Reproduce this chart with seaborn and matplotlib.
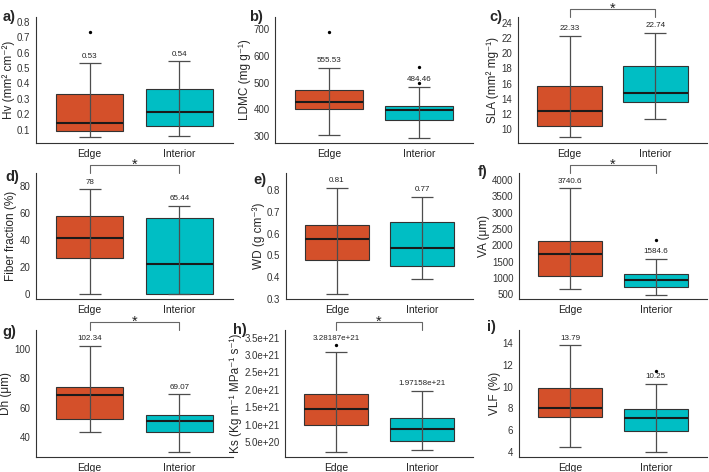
import matplotlib
matplotlib.use("Agg")
import matplotlib.pyplot as plt
import matplotlib.ticker as mticker
import seaborn as sns
import pandas as pd

# Groups and colours
GROUPS = ["Edge", "Interior"]
COLORS = ["#D4502A", "#00BEC4"]

# Box summaries: [whisker low, Q1, median, Q3, whisker high]
HV_EDGE = [0.05, 0.089, 0.145, 0.33, 0.535]
HV_INTERIOR = [0.059, 0.126, 0.214, 0.363, 0.546]
HV_OUT = [[0.73], []]
HV_MAX = [0.53, 0.54]

LDMC_EDGE = [302.5, 403.1, 426.7, 473.9, 555.53]
LDMC_INTERIOR = [293.8, 360.9, 396.9, 413.0, 484.46]
LDMC_OUT = [[688.8], [497.5, 558.0]]
LDMC_MAX = [555.53, 484.46]

SLA_EDGE = [8.91, 10.35, 12.4, 15.69, 22.33]
SLA_INTERIOR = [11.35, 13.63, 14.8, 18.27, 22.74]
SLA_OUT = [[], []]
SLA_MAX = [22.33, 22.74]

FIBER_EDGE = [0.0, 26.5, 41.9, 57.7, 78.0]
FIBER_INTERIOR = [0.0, 0.0, 22.5, 56.7, 65.44]
FIBER_OUT = [[], []]
FIBER_MAX = [78, 65.44]

WD_EDGE = [0.323, 0.481, 0.574, 0.640, 0.81]
WD_INTERIOR = [0.394, 0.45, 0.534, 0.651, 0.77]
WD_OUT = [[], []]
WD_MAX = [0.81, 0.77]

VA_EDGE = [653, 1071, 1745, 2133, 3740.6]
VA_INTERIOR = [490, 735, 949, 1122, 1584.6]
VA_OUT = [[], [2173]]
VA_MAX = [3740.6, 1584.6]

DH_EDGE = [43.0, 52.2, 68.4, 74.4, 102.34]
DH_INTERIOR = [29.4, 43.2, 50.8, 54.9, 69.07]
DH_OUT = [[], []]
DH_MAX = [102.34, 69.07]

KS_EDGE = [0.21e21, 0.98e21, 1.46e21, 1.885e21, 3.096e21]
KS_INTERIOR = [0.26e21, 0.52e21, 0.865e21, 1.18e21, 1.97158e21]
KS_OUT = [[3.28187e21], []]
KS_MAX = [3.28187e21, 1.97158e21]

VLF_EDGE = [4.49, 7.25, 8.02, 9.86, 13.79]
VLF_INTERIOR = [4.0, 5.96, 7.13, 7.93, 10.25]
VLF_OUT = [[], [11.48]]
VLF_MAX = [13.79, 10.25]

W, H = 709, 472


def px_axes(fig, x0, y0, x1, y1):
    return fig.add_axes([x0 / W, 1 - y1 / H, (x1 - x0) / W, (y1 - y0) / H])


def draw_panel(ax, edge, interior, outliers, maxes, ylabel, ylim, ticks,
               sig=False, fmt=None):
    df = pd.DataFrame({"group": ["Edge"] * len(edge) + ["Interior"] * len(interior),
                       "value": edge + interior})
    sns.boxplot(data=df, x="group", y="value", hue="group", order=GROUPS,
                palette=COLORS, saturation=1, width=0.75, whis=(0, 100),
                showcaps=False, showfliers=False,
                whiskerprops={"visible": False},
                linecolor="#333333", linewidth=0.8,
                medianprops={"color": "#1a1a1a", "linewidth": 1.5},
                legend=False, ax=ax)

    # whisker drawn as errorbar through the box (ggplot style)
    meds = [edge[2], interior[2]]
    lows = [edge[2] - edge[0], interior[2] - interior[0]]
    highs = [edge[4] - edge[2], interior[4] - interior[2]]
    ax.errorbar([0, 1], meds, yerr=[lows, highs], fmt="none", ecolor="#4d4d4d",
                elinewidth=0.9, capsize=8, capthick=0.9, zorder=3)

    ox = [g for g, vals in zip(GROUPS, outliers) for _ in vals]
    oy = [v for vals in outliers for v in vals]
    if oy:
        sns.stripplot(x=ox, y=oy, order=GROUPS, jitter=False, color="black",
                      size=2.4, ax=ax, zorder=4)

    for i, v in enumerate(maxes):
        ax.annotate(f"{v:g}", xy=(i, v), xytext=(0, 2.5), textcoords="offset points",
                    ha="center", va="bottom", fontsize=5.8, color="#222222")

    if sig:
        trans = ax.get_xaxis_transform()
        ax.plot([0, 0, 1, 1], [1.0, 1.06, 1.06, 1.0], transform=trans,
                color="#666666", lw=0.8, clip_on=False)
        ax.annotate("*", xy=(0.5, 1.06), xycoords=trans, xytext=(0, -2.5),
                    textcoords="offset points", ha="center", va="baseline",
                    fontsize=10.5, color="#222222", annotation_clip=False)

    ax.set_xlim(-0.6, 1.6)
    ax.set_ylim(*ylim)
    ax.set_yticks(ticks)
    if fmt is not None:
        ax.yaxis.set_major_formatter(fmt)
    ax.set_xlabel("")
    ax.set_ylabel(ylabel, fontsize=8.5, labelpad=1.5)
    sns.despine(ax=ax)
    for s in ["left", "bottom"]:
        ax.spines[s].set_color("#333333")
        ax.spines[s].set_linewidth(0.8)
    ax.tick_params(axis="both", length=2.5, width=0.8, color="#333333",
                   labelcolor="#333333", pad=1.5)
    ax.tick_params(axis="y", labelsize=7)
    ax.tick_params(axis="x", labelsize=7.5, labelcolor="#222222")


sns.set_theme(style="white")
plt.rcParams["font.family"] = ["Liberation Sans", "DejaVu Sans"]

fig = plt.figure(figsize=(W / 100, H / 100), dpi=100)

one_dec = mticker.FormatStrFormatter("%.1f")
sci = mticker.FuncFormatter(lambda v, p: f"{v:.1e}")

ax = px_axes(fig, 36, 17, 233, 143)
draw_panel(ax, HV_EDGE, HV_INTERIOR, HV_OUT, HV_MAX, "Hv (mm² cm⁻²)",
           (0.014, 0.83), [0.1, 0.2, 0.3, 0.4, 0.5, 0.6, 0.7, 0.8], fmt=one_dec)

ax = px_axes(fig, 275, 17, 473, 143)
draw_panel(ax, LDMC_EDGE, LDMC_INTERIOR, LDMC_OUT, LDMC_MAX, "LDMC (mg g⁻¹)",
           (274, 746), [300, 400, 500, 600, 700])

ax = px_axes(fig, 518, 17, 707, 143)
draw_panel(ax, SLA_EDGE, SLA_INTERIOR, SLA_OUT, SLA_MAX, "SLA (mm² mg⁻¹)",
           (8.16, 24.79), [10, 12, 14, 16, 18, 20, 22, 24], sig=True)

ax = px_axes(fig, 36, 173, 233, 299)
draw_panel(ax, FIBER_EDGE, FIBER_INTERIOR, FIBER_OUT, FIBER_MAX, "Fiber fraction (%)",
           (-3.7, 89.9), [0, 20, 40, 60, 80], sig=True)

ax = px_axes(fig, 286, 173, 473, 299)
draw_panel(ax, WD_EDGE, WD_INTERIOR, WD_OUT, WD_MAX, "WD (g cm⁻³)",
           (0.3, 0.878), [0.3, 0.4, 0.5, 0.6, 0.7, 0.8], fmt=one_dec)

ax = px_axes(fig, 519, 173, 707, 299)
draw_panel(ax, VA_EDGE, VA_INTERIOR, VA_OUT, VA_MAX, "VA (μm)",
           (357, 4214), [500, 1000, 1500, 2000, 2500, 3000, 3500, 4000], sig=True)

ax = px_axes(fig, 36, 330, 233, 457)
draw_panel(ax, DH_EDGE, DH_INTERIOR, DH_OUT, DH_MAX, "Dh (μm)",
           (26, 113.3), [40, 60, 80, 100], sig=True)

ax = px_axes(fig, 285, 330, 473, 457)
draw_panel(ax, KS_EDGE, KS_INTERIOR, KS_OUT, KS_MAX, "Ks (Kg m⁻¹ MPa⁻¹ s⁻¹)",
           (0.067e21, 3.72e21), [5e20, 1e21, 1.5e21, 2e21, 2.5e21, 3e21, 3.5e21],
           sig=True, fmt=sci)

ax = px_axes(fig, 519, 330, 707, 457)
draw_panel(ax, VLF_EDGE, VLF_INTERIOR, VLF_OUT, VLF_MAX, "VLF (%)",
           (3.54, 15.2), [4, 6, 8, 10, 12, 14])

# panel letters, placed where they sit in the reference (pixels)
letters = ["a)", "b)", "c)", "d)", "e)", "f)", "g)", "h)", "i)"]
letter_x = [3, 249, 489, 5, 253, 478, 2, 233, 487]
letter_y = [17, 17, 17, 177, 180, 172, 332, 330, 327]
for lab, lx, ly in zip(letters, letter_x, letter_y):
    fig.text(lx / W, 1 - ly / H, lab, fontsize=10.5,
             fontweight="bold", ha="left", va="center")

fig.savefig("out.png", dpi=100)
